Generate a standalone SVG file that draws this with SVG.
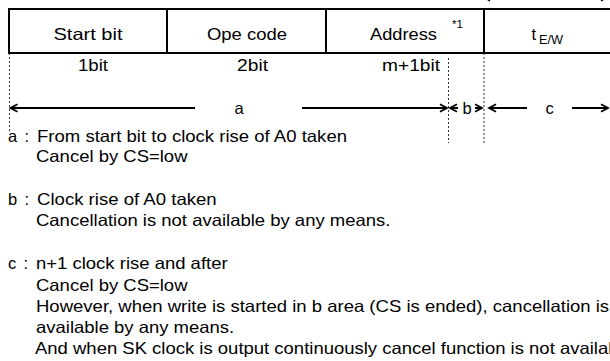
<svg xmlns="http://www.w3.org/2000/svg" width="610" height="361" viewBox="0 0 610 361">
<style>
.t{font-family:"Liberation Sans",Arial,sans-serif;font-size:16.5px;fill:#000}
.s{font-size:12px}
.sup{font-size:11.5px}
.box{fill:#fff;stroke:#000;stroke-width:2}
.dot{stroke:#333;stroke-width:1;stroke-dasharray:2 2;fill:none}
.arr{stroke:#000;stroke-width:2;fill:none}
</style>
<defs>
<marker id="ah" markerUnits="userSpaceOnUse" markerWidth="12" markerHeight="12" viewBox="0 0 12 12" refX="9" refY="6" orient="auto-start-reverse">
<path d="M2,2.2 L9,6 L2,9.8" fill="none" stroke="#000" stroke-width="1.8"/>
</marker>
</defs>
<rect width="610" height="361" fill="#fff"/>

<g id="cell-start">
<rect class="box" x="9" y="9" width="158" height="44"/>
<text class="t" x="53.5" y="40" textLength="69" lengthAdjust="spacingAndGlyphs">Start bit</text>
<text class="t" x="78" y="71" textLength="30" lengthAdjust="spacingAndGlyphs">1bit</text>
</g>
<g id="cell-opecode">
<rect class="box" x="167" y="9" width="159" height="44"/>
<text class="t" x="207" y="40" textLength="80" lengthAdjust="spacingAndGlyphs">Ope code</text>
<text class="t" x="237" y="71" textLength="31" lengthAdjust="spacingAndGlyphs">2bit</text>
</g>
<g id="cell-address">
<rect class="box" x="326" y="9" width="158" height="44"/>
<text class="t" x="370" y="40" textLength="67" lengthAdjust="spacingAndGlyphs">Address</text>
<text class="t sup" x="452" y="28">*1</text>
<text class="t" x="382" y="71" textLength="58" lengthAdjust="spacingAndGlyphs">m+1bit</text>
</g>
<g id="cell-tew">
<rect class="box" x="484" y="9" width="140" height="44"/>
<text class="t" x="531.5" y="40">t</text>
<text class="t s" x="539" y="43.5" textLength="24" lengthAdjust="spacingAndGlyphs">E/W</text>
</g>

<g id="connectors">
<line class="dot" x1="9.5" y1="53" x2="9.5" y2="132"/>
<line class="dot" x1="448.5" y1="58" x2="448.5" y2="143"/>
<line class="dot" x1="484" y1="53" x2="484" y2="143"/>
<line class="arr" x1="195" y1="108" x2="10.5" y2="108" marker-end="url(#ah)"/>
<line class="arr" x1="302" y1="108" x2="447" y2="108" marker-end="url(#ah)"/>
<line class="arr" x1="458" y1="108" x2="450" y2="108" marker-end="url(#ah)"/>
<line class="arr" x1="475" y1="108" x2="482" y2="108" marker-end="url(#ah)"/>
<line class="arr" x1="527" y1="108" x2="489" y2="108" marker-end="url(#ah)"/>
<line class="arr" x1="572" y1="108" x2="608" y2="108" marker-end="url(#ah)"/>
<line class="arr" x1="483" y1="-3.2" x2="608" y2="-3.2" marker-start="url(#ah)" marker-end="url(#ah)"/>
</g>

<g id="range-labels">
<text class="t" x="239" y="113.5" text-anchor="middle">a</text>
<text class="t" x="467" y="113.5" text-anchor="middle">b</text>
<text class="t" x="549.5" y="113.5" text-anchor="middle">c</text>
</g>

<g id="notes">
<text class="t" x="8" y="141.5">a</text>
<text class="t" x="24.5" y="141.5">:</text>
<text class="t" x="37" y="141.5" textLength="310" lengthAdjust="spacingAndGlyphs">From start bit to clock rise of A0 taken</text>
<text class="t" x="36" y="162" textLength="151.5" lengthAdjust="spacingAndGlyphs">Cancel by CS=low</text>
<text class="t" x="8" y="204.5">b</text>
<text class="t" x="24.5" y="204.5">:</text>
<text class="t" x="37" y="204.5" textLength="179.7" lengthAdjust="spacingAndGlyphs">Clock rise of A0 taken</text>
<text class="t" x="36" y="225.5" textLength="354.4" lengthAdjust="spacingAndGlyphs">Cancellation is not available by any means.</text>
<text class="t" x="8" y="269">c</text>
<text class="t" x="23.4" y="269">:</text>
<text class="t" x="36" y="269" textLength="191.6" lengthAdjust="spacingAndGlyphs">n+1 clock rise and after</text>
<text class="t" x="36" y="290.5" textLength="151.5" lengthAdjust="spacingAndGlyphs">Cancel by CS=low</text>
<text class="t" x="36" y="311.5" textLength="573.1" lengthAdjust="spacingAndGlyphs">However, when write is started in b area (CS is ended), cancellation is</text>
<text class="t" x="36" y="332.5" textLength="198.2" lengthAdjust="spacingAndGlyphs">available by any means.</text>
<text class="t" x="35" y="353.5" textLength="603" lengthAdjust="spacingAndGlyphs">And when SK clock is output continuously cancel function is not available.</text>
</g>
</svg>
